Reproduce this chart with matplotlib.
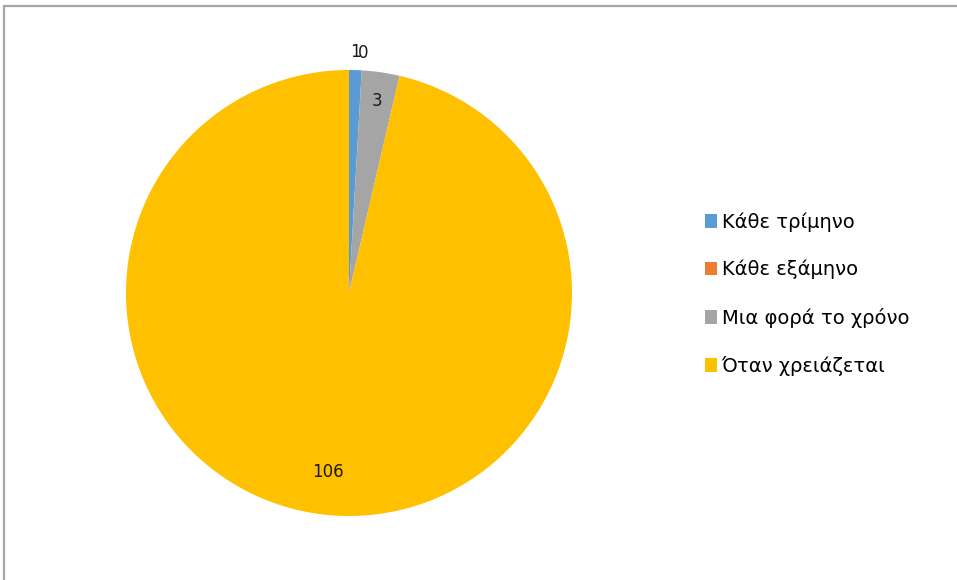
import numpy as np
import matplotlib.pyplot as plt
from matplotlib.patches import Patch, Rectangle

plt.rcParams["font.family"] = ["DejaVu Sans"]

labels = ["Κάθε τρίμηνο", "Κάθε εξάμηνο", "Μια φορά το χρόνο", "Όταν χρειάζεται"]
values = [1, 0, 3, 106]
colors = ["#5B9BD5", "#ED7D31", "#A5A5A5", "#FFC000"]
# radial position of each value label (fraction of radius)
label_r = [1.08, 1.08, 0.87, 0.81]

W, H = 957, 580
fig = plt.figure(figsize=(W / 100, H / 100), dpi=100)
fig.patch.set_facecolor("white")

# chart area frame (top and left edges visible)
fig.add_artist(Rectangle((4 / W, -0.05), 1.0, 1 - 6 / H + 0.05, transform=fig.transFigure,
                         facecolor="none", edgecolor="#A6A6A6", linewidth=1.6))

cx, cy, r = 349, 293, 223
ax = fig.add_axes([(cx - r) / W, (H - cy - r) / H, 2 * r / W, 2 * r / H])
wedges, _ = ax.pie(values, colors=colors, startangle=90, counterclock=False,
                   radius=1, wedgeprops=dict(linewidth=0))
ax.set_xlim(-1, 1)
ax.set_ylim(-1, 1)
ax.set_aspect("equal")
ax.axis("off")

for w, v, rr in zip(wedges, values, label_r):
    mid = np.deg2rad((w.theta1 + w.theta2) / 2)
    ax.text(rr * np.cos(mid), rr * np.sin(mid), str(v), ha="center", va="center",
            fontsize=12, color="#1a1a1a", clip_on=False)

handles = [Patch(facecolor=c, edgecolor="none") for c in colors]
fig.legend(handles, labels, loc="center left", bbox_to_anchor=(705 / W, 1 - 294 / H),
           frameon=False, fontsize=14, handlelength=0.6, handleheight=0.7,
           handletextpad=0.25, labelspacing=1.45, borderpad=0, borderaxespad=0)

fig.savefig("out.png", dpi=100)
